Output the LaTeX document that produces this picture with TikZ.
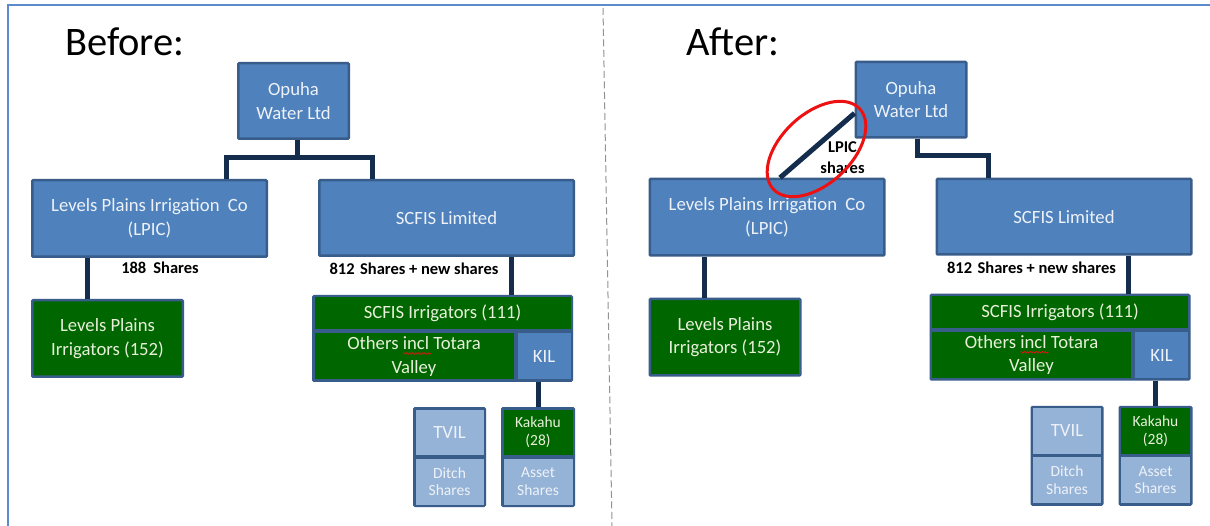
\documentclass[tikz,border=0pt]{standalone}
\usepackage{fontspec}
\setmainfont{Carlito}
\usetikzlibrary{decorations.pathmorphing}
\definecolor{bfill}{HTML}{4F81BD}
\definecolor{bline}{HTML}{385D8A}
\definecolor{gfill}{HTML}{006600}
\definecolor{lfill}{HTML}{95B3D7}
\definecolor{conncol}{HTML}{142D4C}
\definecolor{framecol}{HTML}{5B8BCB}
\definecolor{btext}{HTML}{EEF2F8}
\definecolor{gtext}{HTML}{E8F0DA}
\definecolor{circcol}{HTML}{EE1111}
\newcommand\boxfont{\fontsize{18.7}{23.5}\selectfont}
\newcommand\smallboxfont{\fontsize{15.5}{17.5}\selectfont}
\newcommand\labfont{\fontsize{16.5}{21}\selectfont\bfseries}
\newcommand\titlefont{\fontsize{40.5}{46}\selectfont}
\tikzset{
  box/.style={draw=bline, line width=2.5pt, fill=bfill, text=btext, font=\boxfont,
              align=center, inner sep=0pt, rounded corners=1pt},
  gbox/.style={box, fill=gfill, text=gtext},
  grp/.style={draw=bline, line width=2.5pt, fill=bline, inner sep=0pt, rounded corners=1pt},
  cellb/.style={fill=bfill, text=btext, font=\boxfont, align=center, inner sep=0pt},
  cellg/.style={fill=gfill, text=gtext, font=\boxfont, align=center, inner sep=0pt},
  celll/.style={fill=lfill, text=btext, font=\boxfont, align=center, inner sep=0pt},
  con/.style={draw=conncol, line width=5pt},
  lab/.style={font=\labfont, text=black, align=center, inner sep=0pt},
  wavy/.style={draw=circcol, line width=0.6pt, decorate,
               decoration={snake, amplitude=0.9pt, segment length=3pt}},
}
\newcommand\panel[1]{%
  \node[box, minimum width=110.5pt, minimum height=75.5pt] (#1Op) at (293.5,101) {Opuha\\Water Ltd};
  \node[box, minimum width=234.5pt, minimum height=76.5pt] (#1LP) at (149.5,218.5) {Levels Plains Irrigation\hspace{0.45em}Co\\(LPIC)};
  \node[box, minimum width=254.5pt, minimum height=75.5pt] (#1SC) at (446.5,218) {SCFIS Limited};
  \node[gbox, minimum width=150.5pt, minimum height=76.5pt] (#1LI) at (107.5,338.5) {Levels Plains\\Irrigators (152)};
  \node[grp, minimum width=258.5pt, minimum height=84.5pt] (#1G) at (442.5,338.5) {};
  \node[cellg, minimum width=256pt, minimum height=32pt] (#1SI) at (442.5,313.5) {SCFIS Irrigators (111)};
  \node[cellg, minimum width=199pt, minimum height=46pt] (#1OT) at (414,356.5) {Others incl Totara\\Valley};
  \node[cellb, minimum width=53pt, minimum height=46pt] (#1KIL) at (544,356.5) {KIL};
  \node[grp, minimum width=70.5pt, minimum height=97.5pt] (#1TG) at (449.5,457) {};
  \node[celll, minimum width=68pt, minimum height=45.5pt] (#1TV) at (449.5,432.25) {TVIL};
  \node[celll, font=\smallboxfont, minimum width=68pt, minimum height=46pt] (#1DS) at (449.5,481.5) {Ditch\\Shares};
  \node[grp, minimum width=71.5pt, minimum height=97.5pt] (#1KG) at (538,457) {};
  \node[cellg, font=\smallboxfont, minimum width=69pt, minimum height=45.5pt] (#1KA) at (538,432.25) {Kakahu\\(28)};
  \node[celll, font=\smallboxfont, minimum width=69pt, minimum height=46pt] (#1AS) at (538,481.5) {Asset\\Shares};
  \draw[wavy] (403,353.5) -- (431,353.5);
  \node[lab] (#1L812) at (414,269) {812\hspace{0.1em} Shares + new shares};
  \draw[con] (#1LP.south -| 87,0) -- (#1LI.north -| 87,0);
  \draw[con] (#1SC.south -| 511,0) -- (#1G.north -| 511,0);
  \draw[con] (#1G.south -| #1KA) -- (#1KG.north);
}
\begin{document}
\begin{tikzpicture}[x=1pt,y=-1pt]
  \useasboundingbox (0,0) rectangle (1210,526);
  \fill[white] (0,0) rectangle (1210,526);
  % frame and divider
  \draw[framecol, line width=2pt] (8,526) -- (8,5) -- (1210,5);
  \draw[gray!85, line width=1pt, dash pattern=on 7pt off 3.5pt] (603,8) -- (612,526);
  % titles
  \node[font=\titlefont, anchor=base west, inner sep=0pt] (tb) at (65,56) {Before:};
  \node[font=\titlefont, anchor=base west, inner sep=0pt] (ta) at (686,56) {After:};
  % Before panel
  \panel{b}
  \coordinate (bj) at (297,158);
  \draw[con] (bOp.south -| bj) -- (bj);
  \draw[con] (bLP.north -| 226,0) |- (bj) -| (bSC.north -| 372,0);
  \node[lab] (b188) at (160,268) {188\hspace{0.2em} Shares};
  % After panel
  \begin{scope}[shift={(617.5,-1.25)}]
    \panel{a}
    \coordinate (aj) at (299.5,156.5);
    \draw[con] (aOp.south -| aj) -- (aj) -| (aSC.north -| 370.5,0);
    \draw[con] (aLP.north -| 162.5,0) -- (aOp.west |- 0,114.5);
  \end{scope}
  \node[lab] (alpic) at (842.5,157.5) {LPIC\\shares};
  \draw[circcol, line width=3pt, rotate around={43:(816.5,149)}] (816.5,149) ellipse [x radius=59, y radius=35];
\end{tikzpicture}
\end{document}
